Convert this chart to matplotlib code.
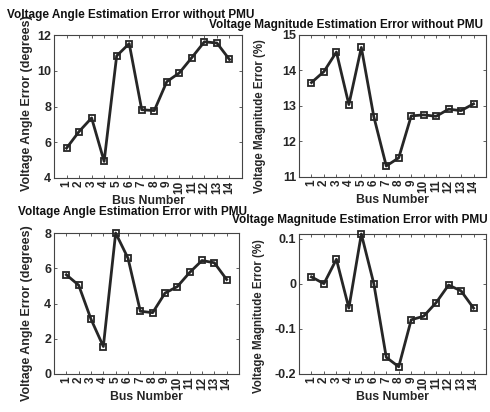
import matplotlib
matplotlib.use("Agg")
import matplotlib.pyplot as plt
import numpy as np

plt.rcParams['font.family'] = ['Liberation Sans', 'DejaVu Sans']
plt.rcParams['font.weight'] = 'bold'

buses = list(range(1, 15))

# voltage angle error without PMU (degrees)
angle_no_pmu = [5.67, 6.6, 7.36, 4.93, 10.83, 11.52, 7.82, 7.77, 9.39,
                9.88, 10.74, 11.62, 11.55, 10.63]
# voltage magnitude error without PMU (%)
mag_no_pmu = [13.66, 13.97, 14.52, 13.04, 14.65, 12.70, 11.31, 11.54, 12.72,
              12.75, 12.71, 12.91, 12.87, 13.06]
# voltage angle error with PMU (degrees)
angle_pmu = [5.63, 5.04, 3.11, 1.56, 8.0, 6.57, 3.56, 3.48, 4.59,
             4.96, 5.76, 6.44, 6.31, 5.36]
# voltage magnitude error with PMU (%)
mag_pmu = [0.015, 0.0, 0.054, -0.054, 0.11, 0.0, -0.163, -0.184, -0.080,
           -0.072, -0.042, -0.003, -0.016, -0.054]

W, H = 490, 412
fig = plt.figure(figsize=(W / 100, H / 100), dpi=100)
DARK = '#262626'


def px_rect(x0, y0, x1, y1):
    return [x0 / W, 1 - y1 / H, (x1 - x0) / W, (y1 - y0) / H]


# rect, data, ylim, yticks, ytick labels, ylabel, ylabel size, ylabel pos, title, title pos
panels = [
    (px_rect(54, 35, 242, 178), angle_no_pmu, (4, 12), [4, 6, 8, 10, 12],
     ['4', '6', '8', '10', '12'], 'Voltage Angle Error (degrees)', 9,
     (-0.112, 0.524), 'Voltage Angle Estimation Error without PMU', (131, 15)),
    (px_rect(299, 35, 486, 177), mag_no_pmu, (11, 15), [11, 12, 13, 14, 15],
     ['11', '12', '13', '14', '15'], 'Voltage Magnitude Error (%)', 8.3,
     (-0.176, 0.43), 'Voltage Magnitude Estimation Error without PMU', (346, 25)),
    (px_rect(54, 233, 239, 374), angle_pmu, (0, 8), [0, 2, 4, 6, 8],
     ['0', '2', '4', '6', '8'], 'Voltage Angle Error (degrees)', 9,
     (-0.114, 0.433), 'Voltage Angle Estimation Error with PMU', (132, 212)),
    (px_rect(299, 234, 486, 374), mag_pmu, (-0.2, 0.11), [-0.2, -0.1, 0, 0.1],
     ['-0.2', '-0.1', '0', '0.1'], 'Voltage Magnitude Error (%)', 8.3,
     (-0.182, 0.414), 'Voltage Magnitude Estimation Error with PMU', (360, 220)),
]

for rect, vals, ylim, yt, ytl, ylab, ylsize, ylpos, title, tpos in panels:
    ax = fig.add_axes(rect)
    ax.plot(buses, vals, color=DARK, lw=2, marker='s', ms=5,
            mfc='none', mec=DARK, mew=1.3, clip_on=False, zorder=3)
    ax.set_xlim(0, 15)
    ax.set_ylim(*ylim)
    ax.set_xticks(buses)
    ax.set_xticklabels([str(b) for b in buses], rotation=90, fontsize=8.5,
                       fontweight='bold', color=DARK)
    ax.set_yticks(yt)
    ax.set_yticklabels(ytl, fontsize=9, fontweight='bold', color=DARK)
    ax.tick_params(direction='in', top=True, right=True, length=2.5,
                   width=0.6, pad=2, colors='#444444', labelcolor=DARK)
    for s in ax.spines.values():
        s.set_color('#444444')
        s.set_linewidth(0.8)
    ax.set_xlabel('Bus Number', fontsize=8.8, fontweight='bold', color=DARK,
                  labelpad=1)
    ax.set_ylabel(ylab, fontsize=ylsize, fontweight='bold', color=DARK)
    ax.yaxis.set_label_coords(*ylpos)
    fig.text(tpos[0] / W, 1 - tpos[1] / H, title, ha='center', va='center',
             fontsize=8.5, fontweight='bold', color='#111111')

fig.savefig('out.png', dpi=100)
